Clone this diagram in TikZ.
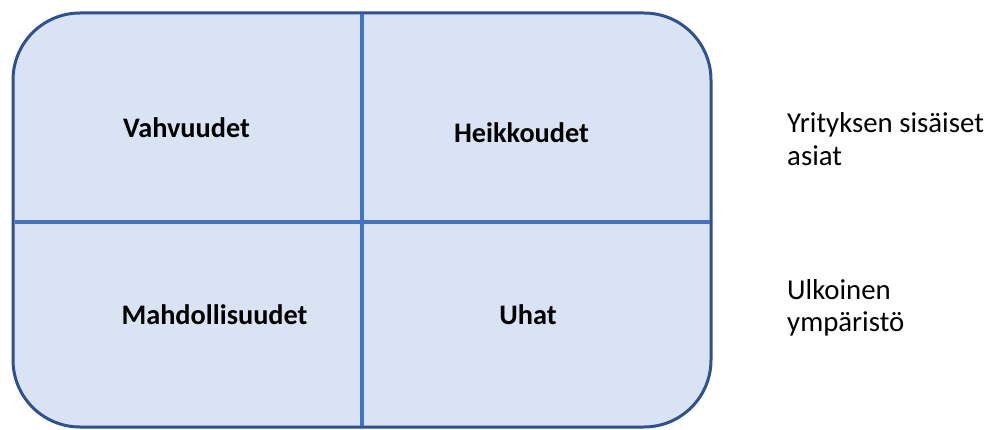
\documentclass[tikz,border=0pt]{standalone}
\usepackage{fontspec}
\setmainfont{Carlito}
\definecolor{boxfill}{HTML}{DAE3F3}
\definecolor{boxedge}{HTML}{2F528F}
\definecolor{divider}{HTML}{4472C4}
\tikzset{
  swotbox/.style={fill=boxfill, draw=boxedge, line width=3pt, rounded corners=67pt},
  divline/.style={draw=divider, line width=3.5pt},
  quadlabel/.style={font=\fontsize{28.3}{34}\selectfont\bfseries, anchor=base, inner sep=0pt},
  sidelabel/.style={font=\fontsize{28.8}{33}\selectfont, anchor=base west, inner sep=0pt, align=left}
}
\begin{document}
\begin{tikzpicture}[x=1pt, y=-1pt]
  \useasboundingbox (0,0) rectangle (985,430);
  % outer rounded frame
  \draw[swotbox] (13,13) rectangle (711,427);
  % quadrant dividers
  \coordinate (vtop) at (362,14.5);
  \coordinate (vbot) at (362,425.5);
  \coordinate (hleft) at (14.5,222);
  \coordinate (hright) at (709.5,222);
  \draw[divline] (vtop) -- (vbot);
  \draw[divline] (hleft) -- (hright);
  % quadrant labels
  \node[quadlabel] (s) at (186.5,138) {Vahvuudet};
  \node[quadlabel] (w) at (521.5,143) {Heikkoudet};
  \node[quadlabel] (o) at (214.5,324) {Mahdollisuudet};
  \node[quadlabel] (t) at (528,324) {Uhat};
  % row captions
  \node[sidelabel] (internal) at (787,133) {Yrityksen sisäiset};
  \node[sidelabel] (internal2) at (787,166) {asiat};
  \node[sidelabel] (external) at (787,299) {Ulkoinen};
  \node[sidelabel] (external2) at (787,331) {ympäristö};
\end{tikzpicture}
\end{document}
